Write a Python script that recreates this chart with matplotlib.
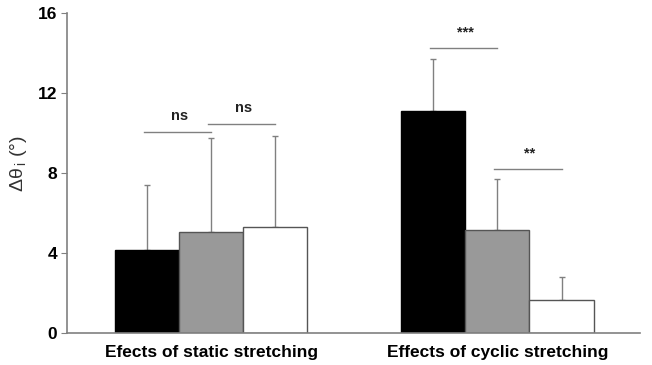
import matplotlib.pyplot as plt
import numpy as np

plt.rcParams['font.family'] = ['Liberation Sans', 'DejaVu Sans']
plt.rcParams['mathtext.fontset'] = 'custom'
plt.rcParams['mathtext.rm'] = 'Liberation Sans'

groups = ['Efects of static stretching', 'Effects of cyclic stretching']
means = [[4.15, 5.05, 5.3], [11.1, 5.15, 1.65]]
err_tops = [[7.4, 9.75, 9.85], [13.7, 7.7, 2.8]]
colors = ['black', '#999999', 'white']
# (group, bar_a, bar_b, line height, label)
sig = [(0, 0, 1, 10.05, 'ns'), (0, 1, 2, 10.45, 'ns'),
       (1, 0, 1, 14.25, '***'), (1, 1, 2, 8.2, '**')]

fig = plt.figure(figsize=(6.52, 3.65), dpi=100)
ax = fig.add_axes([0.103, 0.088, 0.879, 0.876])

offsets = [0, 4.47]
grey = '#808080'
for g, off in enumerate(offsets):
    x = off + np.arange(3)
    m = np.array(means[g])
    e = np.array(err_tops[g]) - m
    ax.bar(x, m, width=1.0, color=colors, edgecolor=['black', '#555555', '#555555'],
           linewidth=1.0, zorder=2)
    ax.errorbar(x, m, yerr=[np.zeros(3), e], fmt='none', ecolor=grey,
                elinewidth=1.0, capsize=2, capthick=1.0, zorder=1)

for g, a, b, h, lab in sig:
    xa, xb = offsets[g] + a, offsets[g] + b
    ax.plot([xa - 0.05, xb], [h, h], color=grey, lw=1.0)
    ax.text((xa + xb) / 2, h + 0.45, lab, ha='center', va='bottom',
            fontsize=10.5, fontweight='bold', color='#222222')

ax.set_xlim(-1.25, 7.7)
ax.set_ylim(0, 16)
ax.set_yticks([0, 4, 8, 12, 16])
ax.set_xticks([1, offsets[1] + 1])
ax.set_xticklabels(groups, fontsize=12.5, fontweight='bold')
ax.tick_params(axis='x', length=0, pad=9)
ax.tick_params(axis='y', direction='out', length=4, color=grey, labelsize=12.5, pad=3)
for lab in ax.get_yticklabels():
    lab.set_fontweight('bold')
ax.set_ylabel(r'$\mathrm{\Delta\theta}_{\,\mathrm{i}}$ (°)', fontsize=14,
              color='#333333', labelpad=4)
ax.yaxis.set_label_coords(-0.066, 0.53)

for s in ['top', 'right']:
    ax.spines[s].set_visible(False)
for s in ['left', 'bottom']:
    ax.spines[s].set_color(grey)
    ax.spines[s].set_linewidth(1.2)

fig.savefig('out.png', dpi=100)
